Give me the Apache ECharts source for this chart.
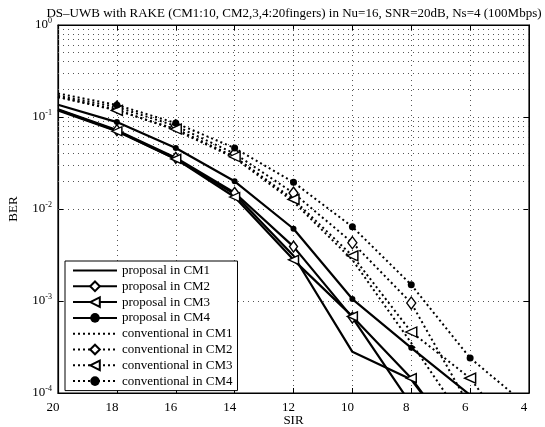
<!DOCTYPE html>
<html>
<head>
<meta charset="utf-8">
<script src="https://cdn.jsdelivr.net/npm/echarts@6/dist/echarts.min.js"></script>
<style>html,body{margin:0;padding:0;background:#fff;}#c{width:545px;height:427px;}</style>
</head>
<body>
<div id="c"></div>
<script>
const titleText = 'DS\u2013UWB with RAKE (CM1:10, CM2,3,4:20fingers) in Nu=16, SNR=20dB, Ns=4 (100Mbps)';
const sir = [20, 18, 16, 14, 12, 10, 8, 6, 4];
const xTicks = [20, 18, 16, 14, 12, 10, 8, 6, 4];
const yTickExponents = [0, -1, -2, -3, -4];

const proposalCM1 = [0.12, 0.071, 0.035, 0.0145, 0.0031, 0.00028, 0.00014, 0.00002, null];
const proposalCM2 = [0.121, 0.072, 0.036, 0.015, 0.0039, 0.00066, 0.000075, null, null];
const proposalCM3 = [0.118, 0.070, 0.035, 0.0135, 0.0028, 0.00068, 0.000145, 0.00002, null];
const proposalCM4 = [0.136, 0.088, 0.046, 0.020, 0.0061, 0.00105, 0.00031, 0.000095, null];

const convCM1 = [0.165, 0.12, 0.072, 0.036, 0.012, 0.0028, 0.00035, 0.00004, null];
const convCM2 = [0.17, 0.128, 0.080, 0.040, 0.0149, 0.0043, 0.00095, 0.00007, null];
const convCM3 = [0.165, 0.118, 0.074, 0.037, 0.0127, 0.0031, 0.00046, 0.000145, 0.00002];
const convCM4 = [0.18, 0.135, 0.086, 0.046, 0.0195, 0.0064, 0.0015, 0.00024, 0.00007];

const names = ['proposal in CM1', 'proposal in CM2', 'proposal in CM3', 'proposal in CM4',
  'conventional in CM1', 'conventional in CM2', 'conventional in CM3', 'conventional in CM4'];

const serif = 'Liberation Serif';
// first point (at the left edge) drawn without a marker
function pairs(vals) {
  return sir.map((x, i) => i === 0 ? { value: [x, vals[i]], symbol: 'none' } : [x, vals[i]]);
}

// minor log grid positions (2..9 x 10^k)
const minorLines = [];
for (let k = -4; k < 0; k++) for (let m = 2; m <= 9; m++) minorLines.push({ yAxis: m * Math.pow(10, k) });

const hollow = { color: '#fff', borderColor: '#000', borderWidth: 1.4 };
const dotted = [2, 3];

function mk(name, vals, solid, symbol, extra) {
  const s = {
    name: name, type: 'line', data: pairs(vals), xAxisIndex: 0, yAxisIndex: 0,
    symbol: symbol || 'none', showSymbol: !!symbol, symbolSize: 8,
    lineStyle: { color: '#000', width: solid ? 2.2 : 2, type: solid ? 'solid' : dotted },
    itemStyle: { color: '#000' },
    emphasis: { disabled: true }, animation: false, clip: true, z: 3
  };
  return Object.assign(s, extra || {});
}

const series = [
  mk(names[0], proposalCM1, true, null, {
    markLine: {
      silent: true, symbol: 'none', z: 1, label: { show: false },
      lineStyle: { color: '#555', width: 1, type: [1, 4] },
      data: minorLines, animation: false
    }
  }),
  mk(names[1], proposalCM2, true, 'diamond', { symbolSize: [8, 11], itemStyle: hollow }),
  mk(names[2], proposalCM3, true, 'triangle', { symbolSize: [9, 10], symbolRotate: 90, itemStyle: hollow }),
  mk(names[3], proposalCM4, true, 'circle', { symbolSize: 6 }),
  mk(names[4], convCM1, false, null),
  mk(names[5], convCM2, false, 'diamond', { symbolSize: [9, 12], itemStyle: hollow }),
  mk(names[6], convCM3, false, 'triangle', { symbolSize: [10, 11], symbolRotate: 90, itemStyle: hollow }),
  mk(names[7], convCM4, false, 'circle', { symbolSize: 7 })
];

const noMarker = { color: 'rgba(0,0,0,0)', borderWidth: 0, opacity: 0 };
const legendData = names.map((n, i) => (i === 0 || i === 4) ? { name: n, itemStyle: noMarker } : { name: n });

const gridLine = { show: true, lineStyle: { color: '#555', width: 1, type: [1, 4] } };

const option = {
  backgroundColor: '#fff',
  animation: false,
  title: {
    text: titleText, left: 289, top: 2, textAlign: 'center',
    textStyle: { fontFamily: serif, fontSize: 13, fontWeight: 'normal', color: '#000' }
  },
  grid: { left: 58, right: 16, top: 25, bottom: 34, outerBoundsMode: 'none', containLabel: false,
    show: true, borderColor: '#000', borderWidth: 1.2, backgroundColor: 'transparent' },
  legend: {
    data: legendData, orient: 'vertical', left: 65, top: 261,
    itemWidth: 44, itemHeight: 12, itemGap: 2.8,
    padding: [3, 5, 3, 7],
    backgroundColor: '#fff', borderColor: '#000', borderWidth: 1,
    textStyle: { fontFamily: serif, fontSize: 13, color: '#000', lineHeight: 12 },
    selectedMode: false
  },
  xAxis: [{
    type: 'value', inverse: true, min: 4, max: 20, interval: 2,
    name: 'SIR', nameLocation: 'middle', nameGap: 21, nameMoveOverlap: false,
    nameTextStyle: { fontFamily: serif, fontSize: 13, color: '#000' },
    axisLine: { show: true, lineStyle: { color: '#000', width: 1.2 } },
    axisTick: { show: true, inside: true, length: 5, lineStyle: { color: '#000' } },
    axisLabel: { fontFamily: serif, fontSize: 13, color: '#000', margin: 8, padding: [0, 10, 0, 0],
      formatter: v => xTicks.indexOf(v) >= 0 ? String(v) : '' },
    splitLine: gridLine
  }, {
    type: 'value', inverse: true, min: 4, max: 20, interval: 2, position: 'top',
    axisLine: { show: true, lineStyle: { color: '#000' } },
    axisTick: { show: true, inside: true, length: 5, lineStyle: { color: '#000' } },
    axisLabel: { show: false }, splitLine: { show: false }
  }],
  yAxis: [{
    type: 'log', logBase: 10, min: 1e-4, max: 1,
    name: 'BER', nameLocation: 'middle', nameGap: 38, nameRotate: 90, nameMoveOverlap: false,
    nameTextStyle: { fontFamily: serif, fontSize: 13, color: '#000' },
    axisLine: { show: true, lineStyle: { color: '#000', width: 1.2 } },
    axisTick: { show: true, inside: true, length: 5, lineStyle: { color: '#000' } },
    axisLabel: {
      fontFamily: serif, fontSize: 13, color: '#000', margin: 6,
      formatter: v => {
        const e = Math.round(Math.log10(v));
        return yTickExponents.indexOf(e) >= 0 ? '10{s|' + e + '}' : '';
      },
      rich: { s: { fontFamily: serif, fontSize: 8, color: '#000', verticalAlign: 'top', padding: [0, 0, 8, 0] } }
    },
    splitLine: gridLine
  }, {
    type: 'log', logBase: 10, min: 1e-4, max: 1, position: 'right',
    axisLine: { show: true, lineStyle: { color: '#000' } },
    axisTick: { show: true, inside: true, length: 5, lineStyle: { color: '#000' } },
    axisLabel: { show: false }, splitLine: { show: false }
  }],
  series: series
};

const chart = echarts.init(document.getElementById('c'), null, { renderer: 'canvas' });
chart.setOption(option);
</script>
</body>
</html>
